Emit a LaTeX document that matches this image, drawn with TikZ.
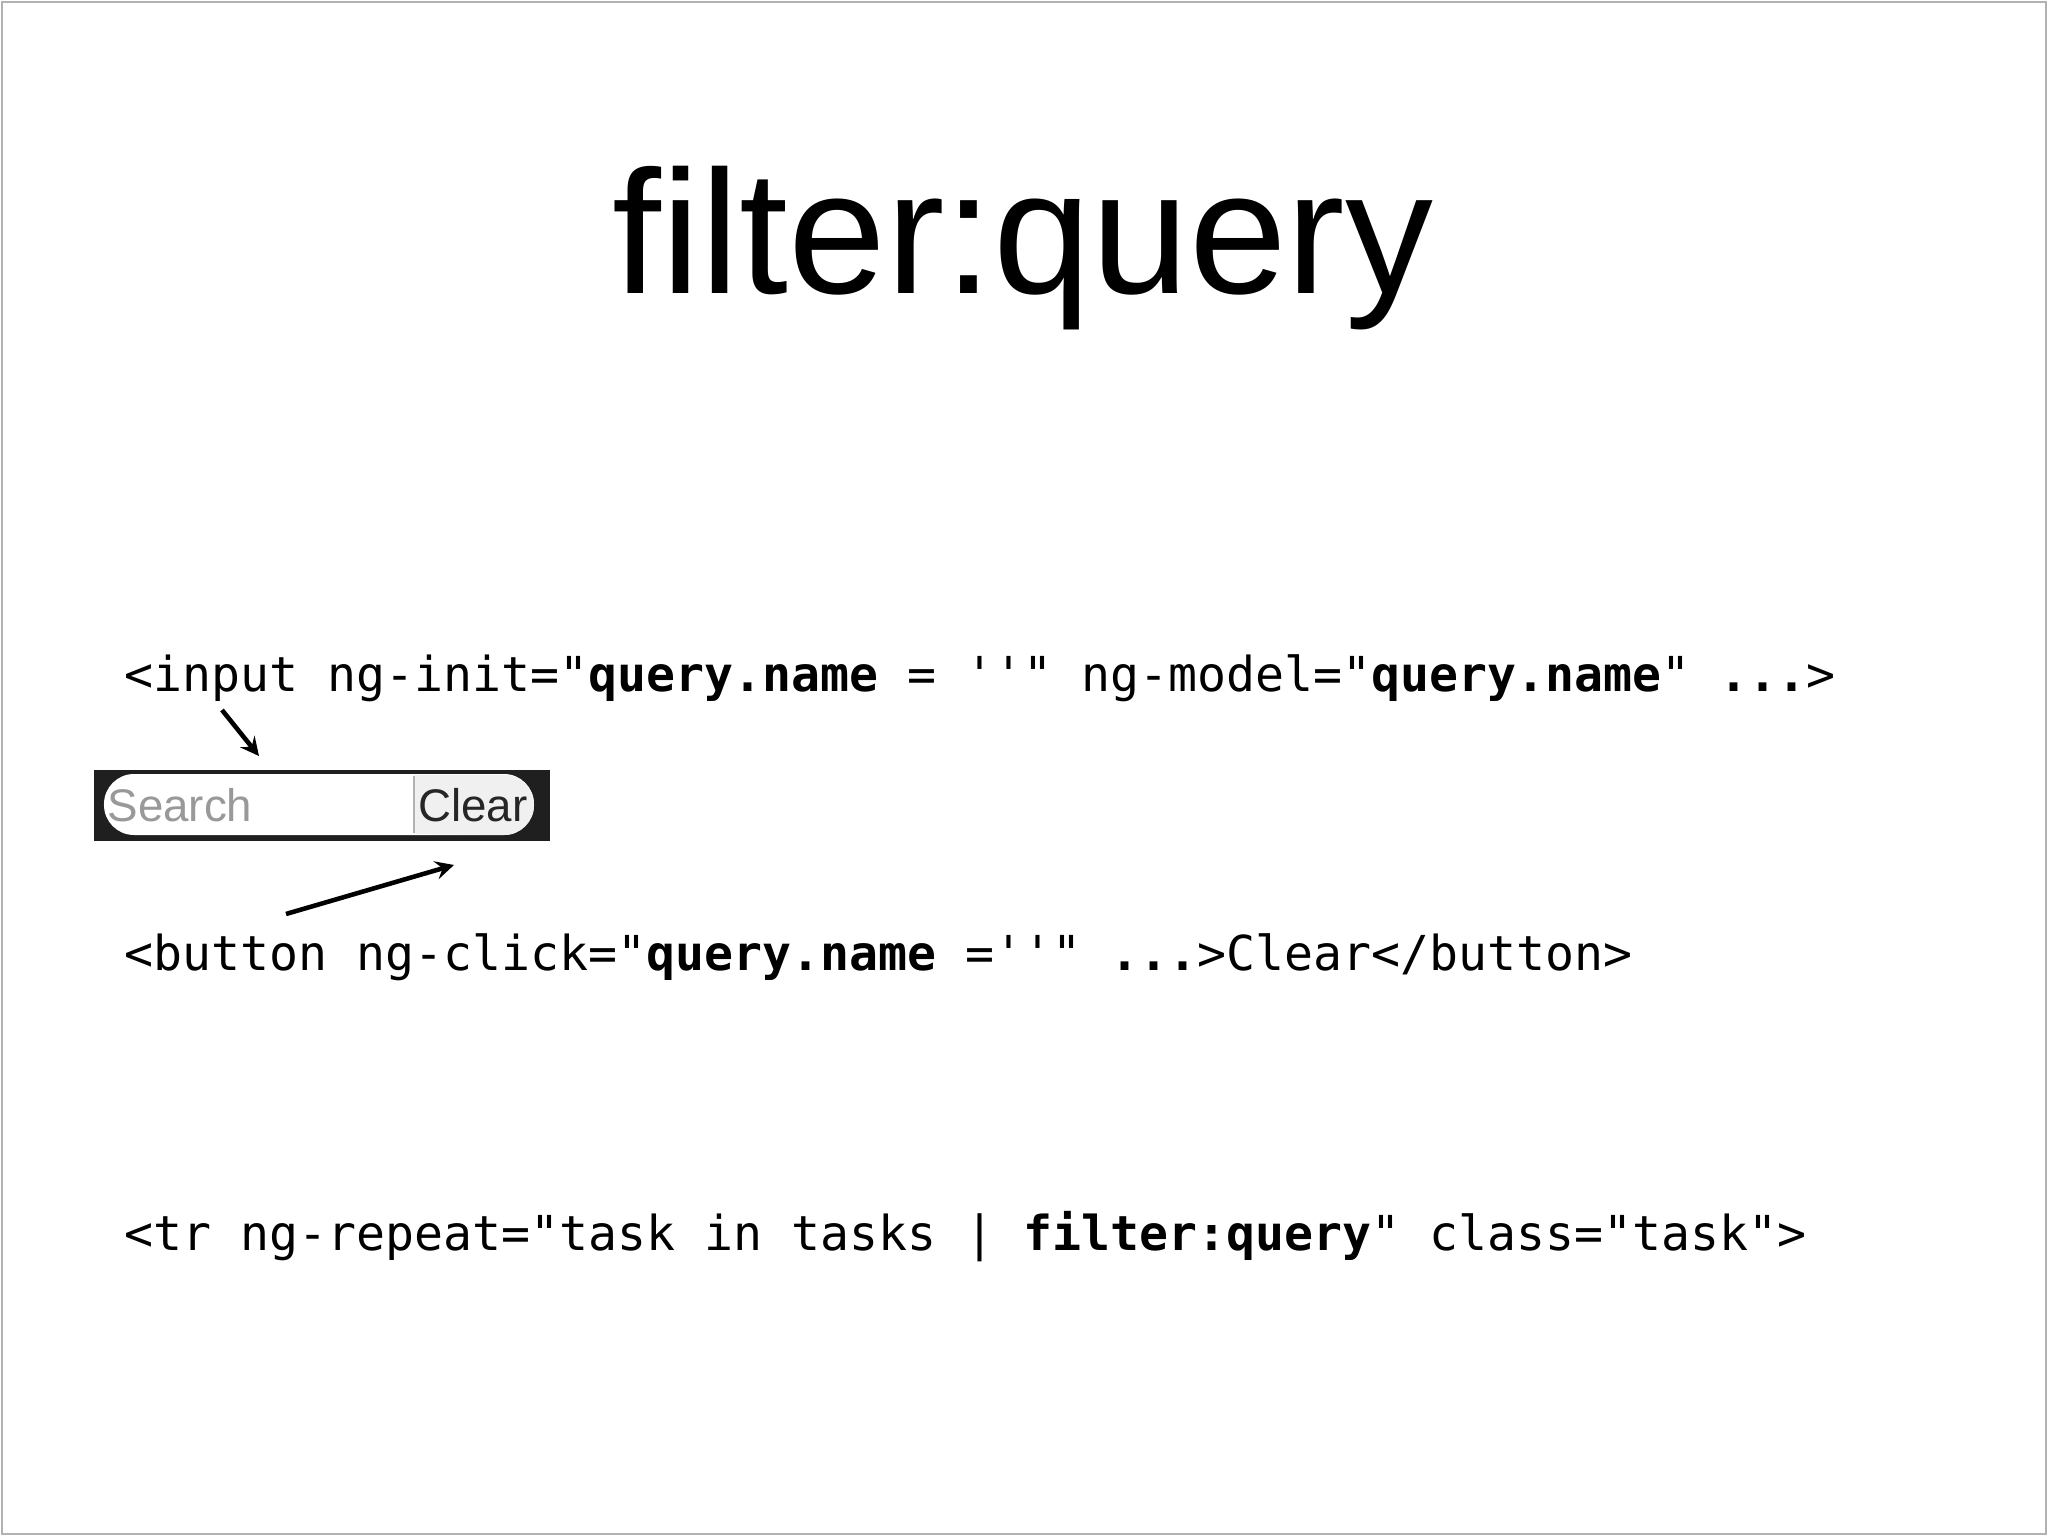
\documentclass[tikz,border=0pt]{standalone}
\usepackage{fontspec}
\setmainfont{Liberation Sans}
\setmonofont{DejaVu Sans Mono}
\usetikzlibrary{arrows, positioning}
\tikzstyle{arrow} = [line width=1.3pt,->,>=stealth]
\tikzstyle{code} = [anchor=base west, inner sep=0pt, font=\fontsize{13.7}{16}\ttfamily]

\begin{document}
\begin{tikzpicture}[x=1cm,y=1cm]
\useasboundingbox (0,0) rectangle (20.48,-15.36);
\draw[gray!60, line width=0.8pt] (0.02,-0.02) rectangle (20.46,-15.34);
\node[anchor=base, inner sep=0pt, font=\fontsize{50}{56}\selectfont] (title) at (10.23,-2.94) {filter:query};

\node[code] (input) at (1.24,-6.92) {<input ng-init="\textbf{query.name} = ''" ng-model="\textbf{query.name}" \textbf{...}>};
\node[code] (button) at (1.24,-9.70) {<button ng-click="\textbf{query.name} =''" \textbf{...}>Clear</button>};
\node[code] (repeat) at (1.24,-12.50) {<tr ng-repeat="task in tasks | \textbf{filter:query}" class="task">};

% search widget
\fill[black!88] (0.94,-7.70) rectangle (5.50,-8.41);
\fill[white, rounded corners=0.3cm] (1.04,-7.74) rectangle (5.34,-8.35);
\fill[black!6] (4.14,-7.75) -- (5.04,-7.75) arc (90:-90:0.3) -- (4.14,-8.34) -- cycle;
\draw[black!30] (4.14,-7.76) -- (4.14,-8.33);
\node[font=\fontsize{13}{15}\selectfont, text=black!40] (search) at (1.80,-8.05) {Search};
\node[font=\fontsize{13}{15}\selectfont, text=black!85] (clear) at (4.73,-8.05) {Clear};

\coordinate (a1) at (2.22,-7.10);
\coordinate (a2) at (2.59,-7.56);
\coordinate (b1) at (2.86,-9.14);
\coordinate (b2) at (4.54,-8.65);
\draw[arrow] (a1) -- (a2);
\draw[arrow] (b1) -- (b2);
\end{tikzpicture}
\end{document}
